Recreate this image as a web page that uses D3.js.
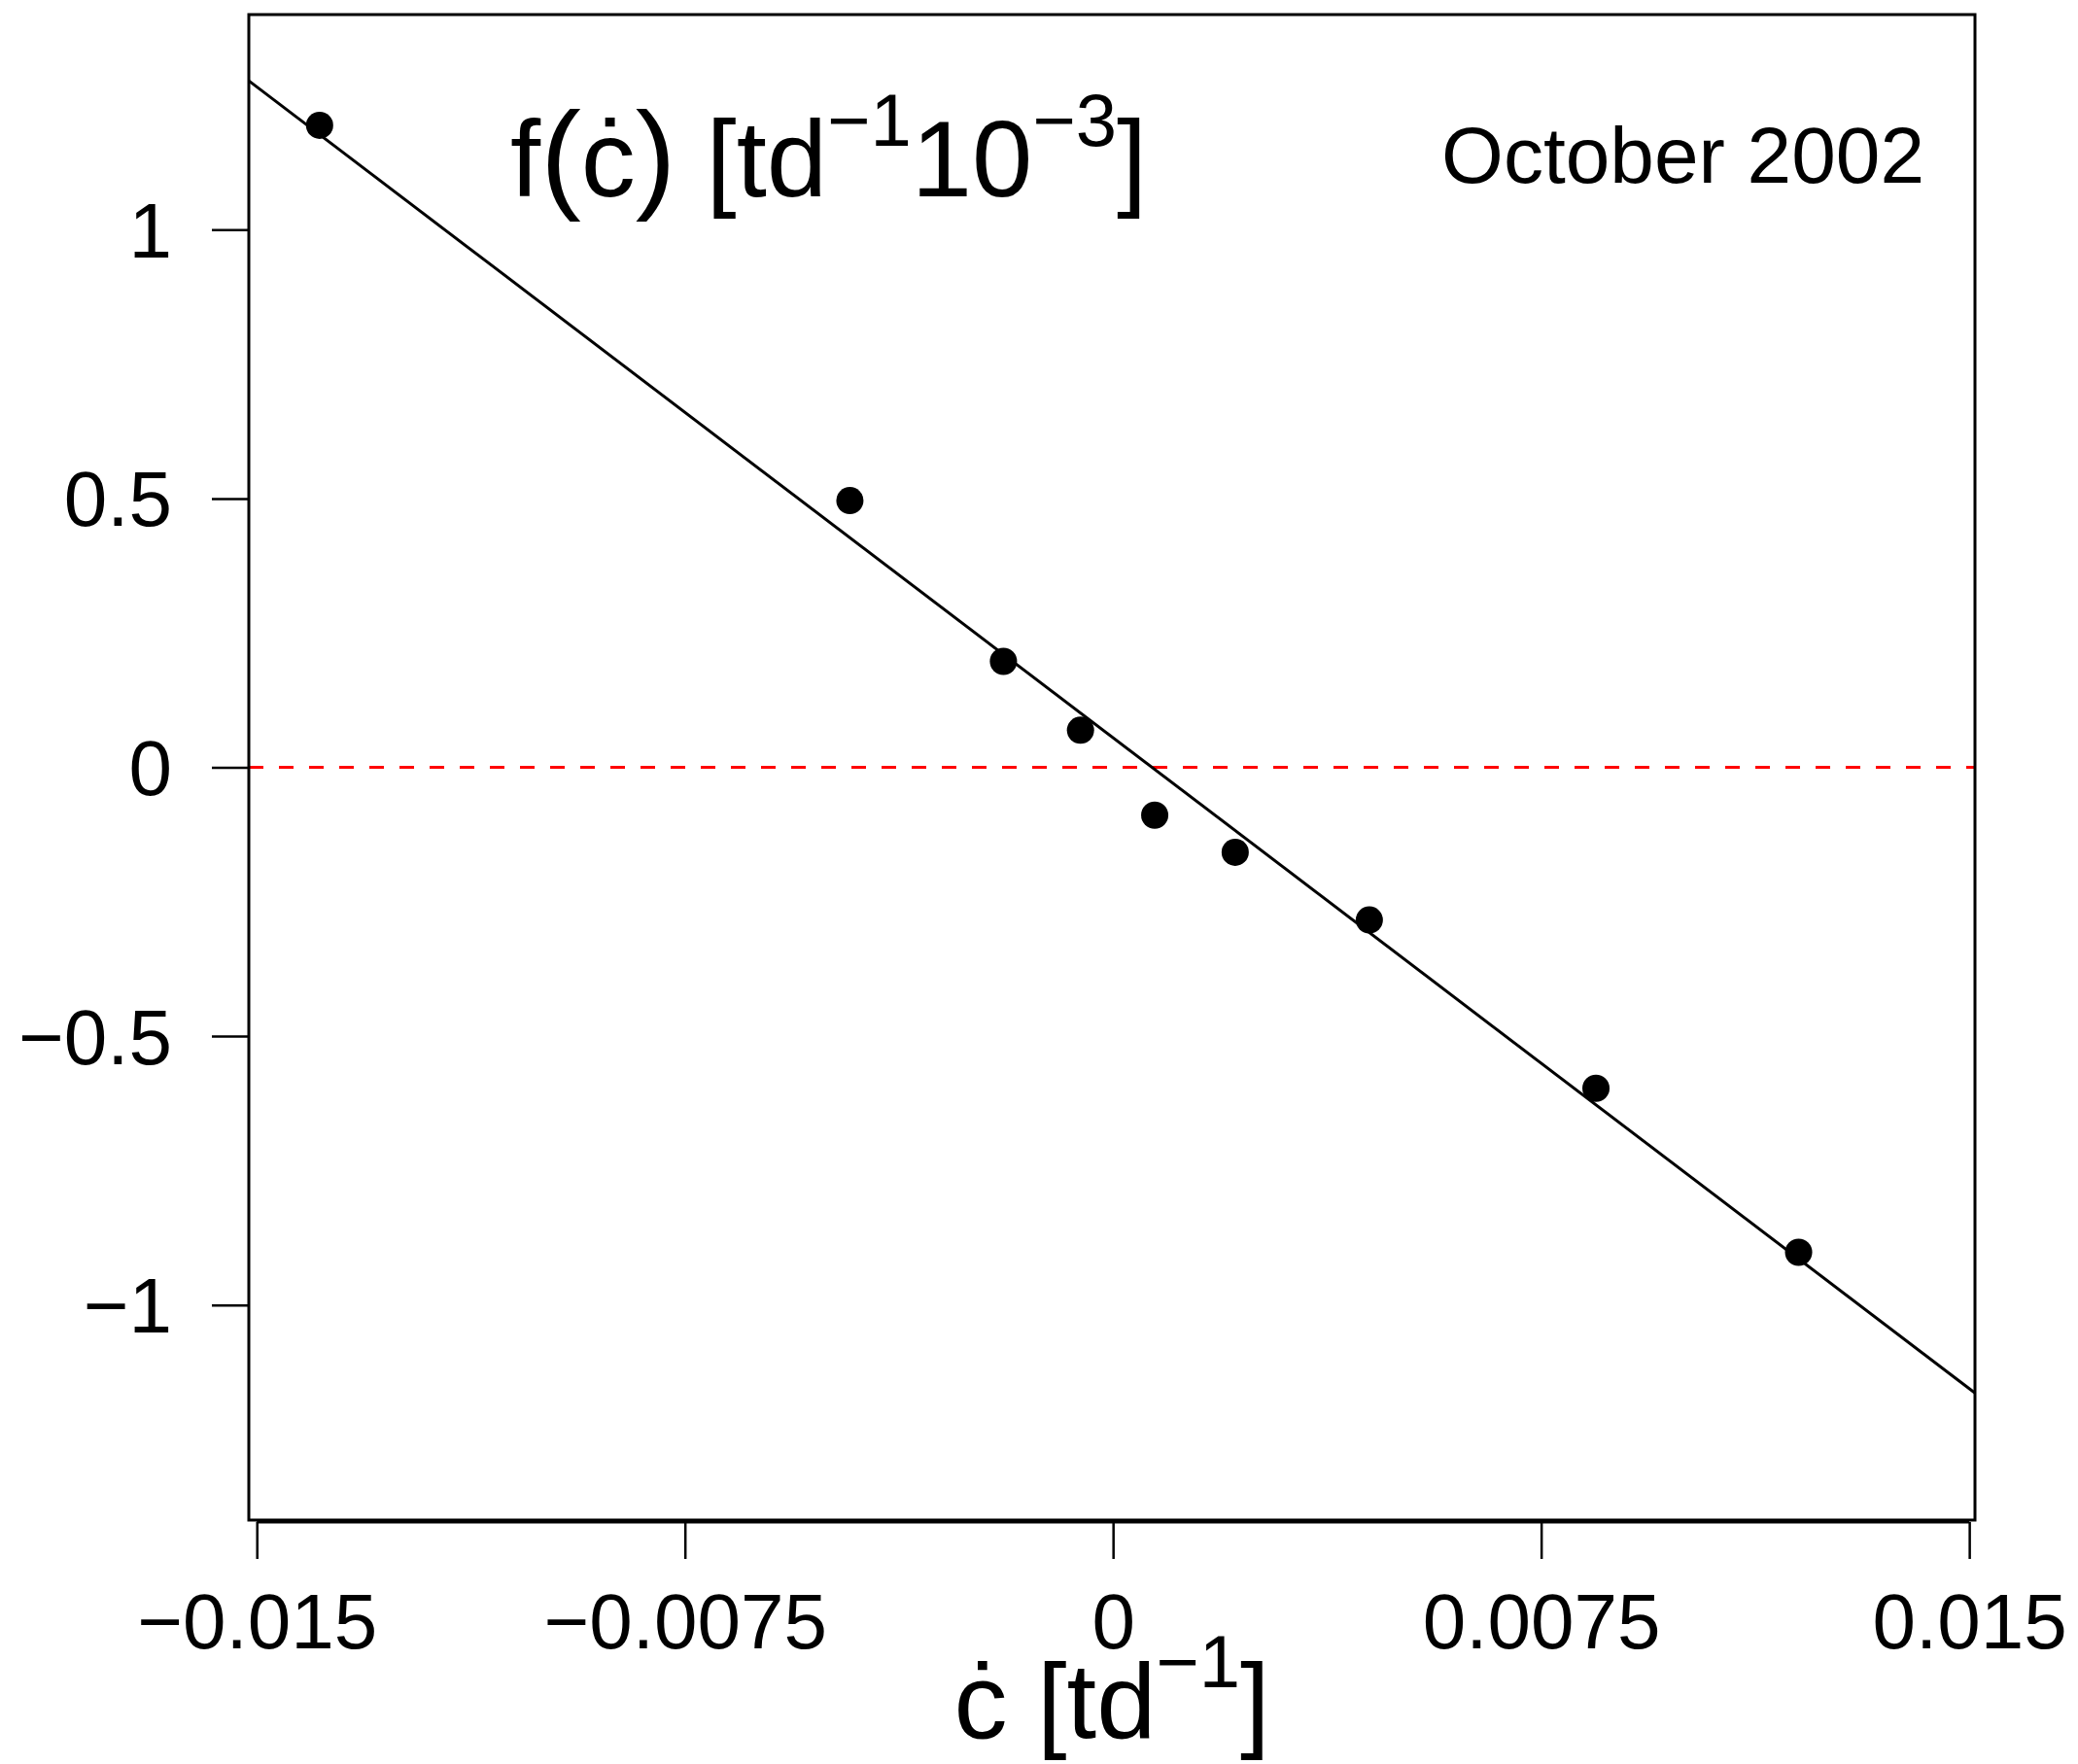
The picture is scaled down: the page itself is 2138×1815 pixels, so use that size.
<!DOCTYPE html>
<html>
<head>
<meta charset="utf-8">
<script src="https://cdn.jsdelivr.net/npm/d3@7"></script>
<style>
  html, body { margin: 0; padding: 0; background: #fff; }
  svg { display: block; }
</style>
</head>
<body>
<div class="chart"></div>
<script>
// values
const cdot = [-0.01390, -0.00461, -0.00192, -0.00057, 0.00073, 0.00214, 0.00449, 0.00846, 0.01201]
const fval = [1.194, 0.496, 0.197, 0.069, -0.089, -0.158, -0.284, -0.597, -0.902]
const fitIntercept = 0.055
const fitSlope = -80.7
const xTicks = [-0.015, -0.0075, 0, 0.0075, 0.015]
const xTickLabels = ["\u22120.015", "\u22120.0075", "0", "0.0075", "0.015"]
const yTicks = [-1, -0.5, 0, 0.5, 1]
const yTickLabels = ["\u22121", "\u22120.5", "0", "0.5", "1"]

const W = 2138, H = 1815
const box = { left: 256, right: 2032, top: 15, bottom: 1564 }
const font = "'Liberation Sans', Arial, Helvetica, sans-serif"

const x = d3.scaleLinear().domain([-0.01514, 0.01510]).range([box.left, box.right])
const y = d3.scaleLinear().domain([-1.4, 1.4]).range([box.bottom, box.top])

const svg = d3.select('.chart')
    .append('svg')
    .attr('width', W)
    .attr('height', H)

// zero reference line
svg.append('line')
    .attr('x1', box.left).attr('x2', box.right)
    .attr('y1', y(0)).attr('y2', y(0))
    .attr('stroke', '#ff0000')
    .attr('stroke-width', 3)
    .attr('stroke-dasharray', '15,16')

// fitted line
const xd = x.domain()
svg.append('line')
    .attr('x1', x(xd[0])).attr('y1', y(fitIntercept + fitSlope * xd[0]))
    .attr('x2', x(xd[1])).attr('y2', y(fitIntercept + fitSlope * xd[1]))
    .attr('stroke', '#000')
    .attr('stroke-width', 3)

// points
svg.selectAll('circle')
    .data(cdot.map((c, i) => ({ c: c, f: fval[i] })))
    .enter()
    .append('circle')
    .attr('cx', d => x(d.c))
    .attr('cy', d => y(d.f))
    .attr('r', 14)
    .attr('fill', '#000')

// box
svg.append('rect')
    .attr('x', box.left).attr('y', box.top)
    .attr('width', box.right - box.left)
    .attr('height', box.bottom - box.top)
    .attr('fill', 'none')
    .attr('stroke', '#000')
    .attr('stroke-width', 3)

// x axis
const gx = svg.append('g')
    .attr('transform', `translate(0,${box.bottom + 2})`)
    .call(d3.axisBottom(x)
        .tickValues(xTicks)
        .tickFormat((d, i) => xTickLabels[i])
        .tickSize(38)
        .tickSizeOuter(0))
gx.select('.domain').remove()
gx.append('line')
    .attr('x1', x(xTicks[0])).attr('x2', x(xTicks[xTicks.length - 1]))
    .attr('y1', 0).attr('y2', 0)
    .attr('stroke', '#000').attr('stroke-width', 3)
gx.selectAll('.tick line').attr('stroke-width', 2.5)
gx.selectAll('.tick text')
    .attr('y', 130)
    .attr('dy', 0)
    .attr('font-size', 80)
    .attr('font-family', font)
    .attr('fill', '#000')

// y axis
const gy = svg.append('g')
    .attr('transform', `translate(${box.left},0)`)
    .call(d3.axisLeft(y)
        .tickValues(yTicks)
        .tickFormat((d, i) => yTickLabels[i])
        .tickSize(38)
        .tickSizeOuter(0))
gy.select('.domain').remove()
gy.selectAll('.tick line').attr('stroke-width', 2.5)
gy.selectAll('.tick text')
    .attr('x', -79)
    .attr('dy', '0.35em')
    .attr('font-size', 80)
    .attr('font-family', font)
    .attr('fill', '#000')

// in-plot texts
const title = svg.append('text')
    .attr('x', 525).attr('y', 202)
    .attr('font-family', font)
    .attr('font-size', 112)
    .attr('fill', '#000')
title.append('tspan').text('f')
title.append('tspan').attr('font-size', 125).text('(')
title.append('tspan').text('\u010B')
title.append('tspan').attr('font-size', 125).text(')')
title.append('tspan').text(' [td')
title.append('tspan').attr('font-size', 76).attr('dy', -52).text('\u22121')
title.append('tspan').attr('dy', 52).text('10')
title.append('tspan').attr('font-size', 76).attr('dy', -52).text('\u22123')
title.append('tspan').attr('dy', 52).text(']')

svg.append('text')
    .attr('x', 1980).attr('y', 188)
    .attr('text-anchor', 'end')
    .attr('font-family', font)
    .attr('font-size', 82)
    .attr('fill', '#000')
    .text('October 2002')

// x axis title
const xl = svg.append('text')
    .attr('x', (box.left + box.right) / 2).attr('y', 1788)
    .attr('text-anchor', 'middle')
    .attr('font-family', font)
    .attr('font-size', 110)
    .attr('fill', '#000')
xl.append('tspan').text('\u010B [td')
xl.append('tspan').attr('font-size', 76).attr('dy', -52).text('\u22121')
xl.append('tspan').attr('dy', 52).text(']')
</script>
</body>
</html>
